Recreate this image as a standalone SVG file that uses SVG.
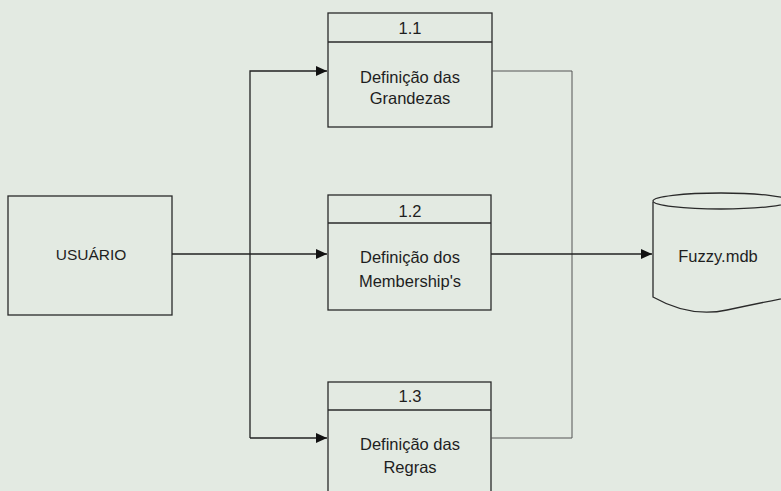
<svg xmlns="http://www.w3.org/2000/svg" width="781" height="491" viewBox="0 0 781 491">
<style>
.bg{fill:#e3eae2}
.box{fill:none;stroke:#2a2a2a;stroke-width:1.3}
.t{font-family:"Liberation Sans",Arial,sans-serif;font-size:16.5px;fill:#1e1e1e;text-anchor:middle}
.s{font-size:15.5px}
.c{fill:none;stroke:#222;stroke-width:1.3}
.cl{fill:none;stroke:#555;stroke-width:1}
</style>
<defs>
<marker id="ah" markerWidth="12" markerHeight="10" refX="11" refY="5" orient="auto" markerUnits="userSpaceOnUse">
<path d="M0,0 L11,5 L0,10 Z" fill="#111"/>
</marker>
</defs>
<rect class="bg" x="0" y="0" width="781" height="491"/>
<g id="usuario">
<rect class="box" x="8" y="196" width="164" height="119"/>
<text class="t s" x="91" y="260">USUÁRIO</text>
</g>
<g id="p11">
<rect class="box" x="328" y="13" width="164" height="114"/>
<line class="box" x1="328" y1="42" x2="492" y2="42"/>
<text class="t" x="410" y="34">1.1</text>
<text class="t" x="410" y="83">Definição das</text>
<text class="t" x="410" y="104">Grandezas</text>
</g>
<g id="p12">
<rect class="box" x="328" y="195" width="163" height="115"/>
<line class="box" x1="328" y1="223" x2="491" y2="223"/>
<text class="t" x="410" y="217">1.2</text>
<text class="t" x="410" y="263">Definição dos</text>
<text class="t" x="410" y="287">Membership's</text>
</g>
<g id="p13">
<rect class="box" x="328" y="382" width="163" height="120"/>
<line class="box" x1="328" y1="410" x2="491" y2="410"/>
<text class="t" x="410" y="402">1.3</text>
<text class="t" x="410" y="450">Definição das</text>
<text class="t" x="410" y="473">Regras</text>
</g>
<g id="fuzzy">
<path class="box" d="M653,202 L653,297 Q690,318 727,310 Q760,303 790,297 L790,202"/>
<ellipse class="box" cx="721" cy="201" rx="68" ry="8"/>
<text class="t" x="718" y="262">Fuzzy.mdb</text>
</g>
<g id="connectors">
<line class="c" x1="172" y1="254" x2="327" y2="254" marker-end="url(#ah)"/>
<path class="c" d="M250,438 L250,71 L327,71" marker-end="url(#ah)"/>
<path class="c" d="M250,438 L327,438" marker-end="url(#ah)"/>
<path class="cl" d="M492,71 L572,71 L572,438 L491,438"/>
<line class="c" x1="491" y1="254" x2="652" y2="254" marker-end="url(#ah)"/>
</g>
</svg>
